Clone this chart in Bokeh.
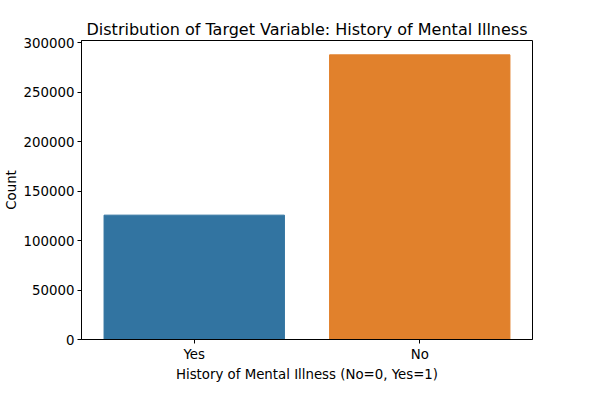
from bokeh.plotting import figure
from bokeh.models import ColumnDataSource, Range1d, NumeralTickFormatter
from bokeh.embed import file_html
from bokeh.resources import INLINE

categories = ["Yes", "No"]
counts = [125800, 288000]
bar_colors = ["#3274a1", "#e1812c"]

source = ColumnDataSource(dict(cat=categories, count=counts, color=bar_colors))

p = figure(x_range=categories, y_range=Range1d(0, 302500),
           width=584, height=384, output_backend="svg", toolbar_location=None,
           title="Distribution of Target Variable: History of Mental Illness",
           x_axis_label="History of Mental Illness (No=0, Yes=1)",
           y_axis_label="Count",
           min_border_left=10, min_border_right=52, min_border_top=40, min_border_bottom=10)

p.vbar(x="cat", top="count", width=0.8, color="color", source=source)

font = "DejaVu Sans"
p.title.text_font = font
p.title.text_font_size = "12pt"
p.title.text_font_style = "normal"
p.title.text_color = "black"
p.title.align = "center"
p.title.standoff = 4
p.xgrid.visible = False
p.ygrid.visible = False
p.outline_line_color = "black"
p.x_range.range_padding = 0
p.yaxis.ticker = [0, 50000, 100000, 150000, 200000, 250000, 300000]
p.yaxis.formatter = NumeralTickFormatter(format="0")
for ax in (p.xaxis[0], p.yaxis[0]):
    ax.major_label_text_font = font
    ax.major_label_text_font_size = "10pt"
    ax.axis_label_text_font = font
    ax.axis_label_text_font_size = "10pt"
    ax.axis_label_text_font_style = "normal"
    ax.minor_tick_line_color = None
    ax.major_tick_in = 0
    ax.major_tick_out = 4
    ax.axis_line_color = "black"
    ax.major_tick_line_color = "black"
    ax.major_label_text_color = "black"
    ax.axis_label_text_color = "black"
p.yaxis.axis_label_standoff = 2
p.xaxis.axis_label_standoff = 2
p.xaxis.major_label_standoff = 3
p.yaxis.major_label_standoff = 3

open("out.html", "w").write(file_html(p, INLINE))
